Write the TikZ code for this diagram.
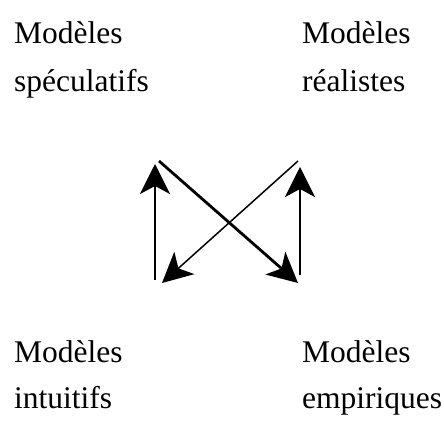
\documentclass[tikz,border=0pt]{standalone}
\usepackage{fontspec}
\setmainfont{Liberation Serif}
\usetikzlibrary{arrows.meta}
\begin{document}
\begin{tikzpicture}[x=1pt,y=1pt,
  lbl/.style={anchor=base west,inner sep=0pt,font=\fontsize{31.5}{38}\selectfont},
  head/.tip={Stealth[length=30pt,width=30pt,inset=8pt]},
  arr/.style={-head,line width=2pt},
  thickarr/.style={arr,line width=2.8pt},
  thinarr/.style={arr,line width=1.5pt}]
\useasboundingbox (0,0) rectangle (444,432);
% labels (y measured from top: 432 - y)
\node[lbl] (tl1) at (14,{432-44}) {Modèles};
\node[lbl] (tl2) at (14,{432-91}) {spéculatifs};
\node[lbl] (tr1) at (302,{432-44}) {Modèles};
\node[lbl] (tr2) at (302,{432-91}) {réalistes};
\node[lbl] (bl1) at (14,{432-362}) {Modèles};
\node[lbl] (bl2) at (14,{432-408}) {intuitifs};
\node[lbl] (br1) at (302,{432-362}) {Modèles};
\node[lbl] (br2) at (302,{432-408}) {empiriques};
% arrow ends
\coordinate (lu0) at (155,{432-280});
\coordinate (lu1) at (155,{432-164});
\coordinate (ru0) at (300,{432-275});
\coordinate (ru1) at (300,{432-167});
\coordinate (d10) at (159,{432-161});
\coordinate (d11) at (298,{432-283});
\coordinate (d20) at (298,{432-161});
\coordinate (d21) at (162,{432-283});
\draw[arr] (lu0) -- (lu1);
\draw[arr] (ru0) -- (ru1);
\draw[thickarr] (d10) -- (d11);
\draw[thinarr] (d20) -- (d21);
\end{tikzpicture}
\end{document}
